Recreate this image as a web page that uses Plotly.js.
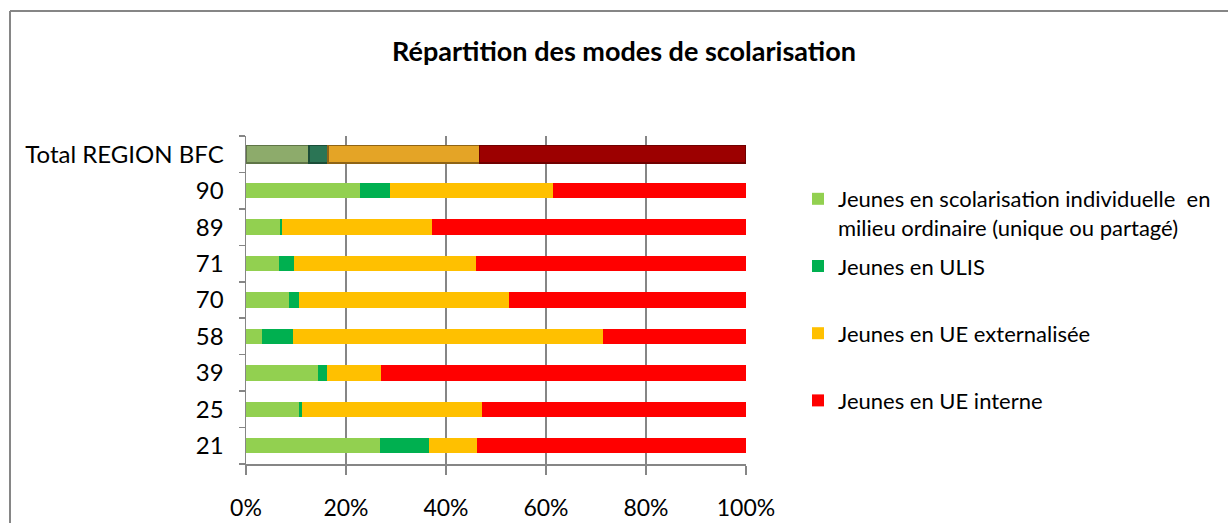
<!DOCTYPE html>
<html>
<head>
<meta charset="utf-8">
<script src="https://cdn.plot.ly/plotly-3.0.1.min.js"></script>
<style>html,body{margin:0;padding:0;background:#fff;}#chart{width:1228px;height:523px;}</style>
</head>
<body>
<div id="chart"></div>
<script>
// Categories, bottom to top
const categories = ["21", "25", "39", "58", "70", "71", "89", "90", "Total REGION BFC"];
// Series values (percent of each row)
const individuelle = [26.7, 10.5, 14.3, 3.2, 8.6, 6.6, 6.7, 22.8, 12.6];
const ulis         = [9.9, 0.6, 1.8, 6.1, 1.9, 2.9, 0.4, 5.9, 3.8];
const ueExternal   = [9.6, 36.0, 10.9, 62.0, 42.0, 36.5, 30.0, 32.7, 30.3];
const ueInterne    = [53.8, 52.9, 73.0, 28.7, 47.5, 54.0, 62.9, 38.6, 53.3];
// Legend labels
const seriesNames = [
  "Jeunes en scolarisation individuelle  en<br>milieu ordinaire (unique ou partagé)",
  "Jeunes en ULIS<br> ",
  "Jeunes en UE externalisée<br> ",
  "Jeunes en UE interne"
];
const xTickVals = [0, 20, 40, 60, 80, 100];
const xTickText = ["0%", "20%", "40%", "60%", "80%", "100%"];

const baseColors  = ["#92d050", "#00b050", "#ffc000", "#ff0000"];
const totalColors = ["#8dab6b", "#2b7555", "#e4a426", "#9c0000"];
const totalLines  = ["#5f7547", "#1b4d38", "#8f6416", "#700000"];

const FONT = "Lato, 'Open Sans', 'Liberation Sans', sans-serif";
const n = categories.length;
const seriesData = [individuelle, ulis, ueExternal, ueInterne];

const traces = seriesData.map((vals, i) => {
  const colors = categories.map((c, k) => k === n - 1 ? totalColors[i] : baseColors[i]);
  const lineColors = categories.map((c, k) => k === n - 1 ? totalLines[i] : baseColors[i]);
  const lineWidths = categories.map((c, k) => k === n - 1 ? 1.5 : 0);
  const widths = categories.map((c, k) => k === n - 1 ? 0.47 : 0.42);
  return {
    type: "bar",
    orientation: "h",
    name: seriesNames[i],
    legendgroup: "g" + i,
    y: categories,
    x: vals,
    width: widths,
    marker: { color: colors, line: { color: lineColors, width: lineWidths } },
    hoverinfo: "x+y+name"
  };
});

const L = 246, R = 746, T = 136, B = 464, W = 1228, H = 523;
const px2x = p => (p - L) / (R - L);
const px2y = p => (B - p) / (B - T);

const layout = {
  width: W, height: H,
  margin: { l: L, r: W - R, t: T, b: H - B, pad: 0 },
  paper_bgcolor: "#ffffff",
  plot_bgcolor: "#ffffff",
  barmode: "stack",
  bargap: 0.58,
  font: { family: FONT, color: "#000000", size: 22 },
  title: {
    text: "<b>Répartition des modes de scolarisation</b>",
    font: { family: FONT, size: 27, color: "#000000" },
    xref: "container", yref: "container",
    x: 624 / W, y: 1 - 52 / H, xanchor: "center", yanchor: "middle"
  },
  xaxis: {
    range: [0, 100],
    tickvals: xTickVals,
    ticktext: xTickText,
    showgrid: true,
    gridcolor: "#868686",
    gridwidth: 1.5,
    showline: true,
    linecolor: "#868686",
    linewidth: 1.5,
    ticks: "outside",
    ticklen: 9,
    tickwidth: 1.5,
    tickcolor: "#868686",
    ticklabelstandoff: 14,
    tickfont: { family: FONT, size: 23, color: "#000000" },
    zeroline: false,
    fixedrange: true
  },
  yaxis: {
    type: "category",
    categoryorder: "array",
    categoryarray: categories,
    showgrid: false,
    showline: true,
    linecolor: "#868686",
    linewidth: 1.5,
    ticks: "outside",
    tickson: "boundaries",
    ticklen: 6,
    tickwidth: 1.5,
    tickcolor: "#868686",
    ticklabelstandoff: 16,
    tickfont: { family: FONT, size: 24, color: "#000000" },
    range: [-0.5, n - 0.5],
    fixedrange: true
  },
  legend: {
    x: px2x(798), y: px2y(178),
    xanchor: "left", yanchor: "top",
    traceorder: "grouped",
    valign: "top",
    tracegroupgap: 7,
    bgcolor: "rgba(0,0,0,0)",
    font: { family: FONT, size: 22, color: "#000000" }
  },
  showlegend: true,
  shapes: [
    {
      type: "line", xref: "paper", yref: "paper",
      x0: px2x(10), x1: px2x(10), y0: px2y(11), y1: px2y(540),
      line: { color: "#868686", width: 2 }, layer: "below"
    },
    {
      type: "line", xref: "paper", yref: "paper",
      x0: px2x(10), x1: px2x(1240), y0: px2y(11), y1: px2y(11),
      line: { color: "#868686", width: 2 }, layer: "below"
    }
  ]
};

Plotly.newPlot("chart", traces, layout, { displayModeBar: false, staticPlot: true });
</script>
</body>
</html>
